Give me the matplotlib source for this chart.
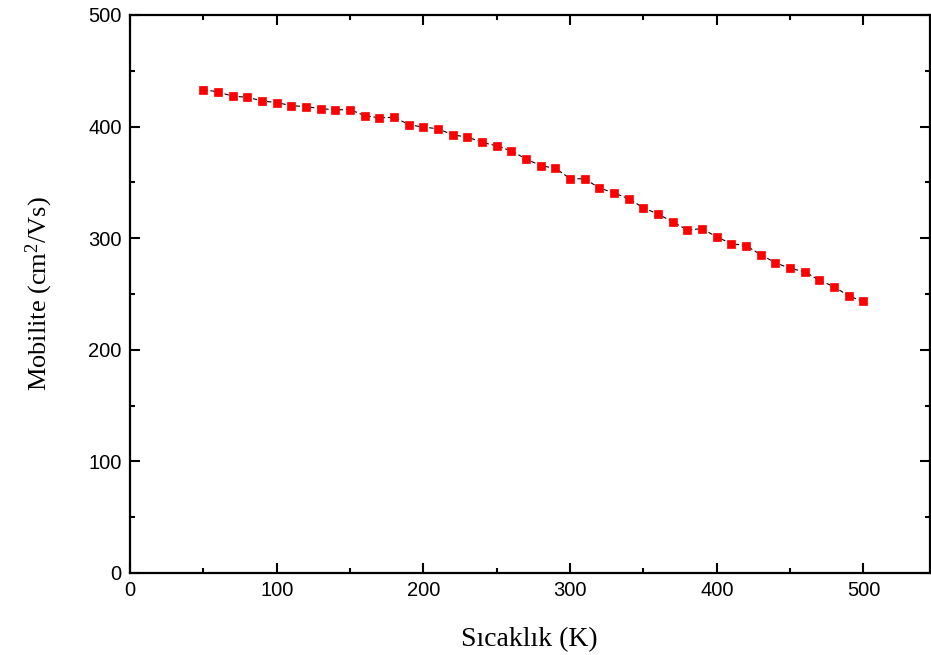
import matplotlib.pyplot as plt
from matplotlib.ticker import MultipleLocator

# sicaklik (K) ve mobilite (cm^2/Vs) degerleri
temperature = [50, 60, 70, 80, 90, 100, 110, 120, 130, 140, 150, 160, 170, 180, 190,
               200, 210, 220, 230, 240, 250, 260, 270, 280, 290, 300, 310, 320, 330, 340,
               350, 360, 370, 380, 390, 400, 410, 420, 430, 440, 450, 460, 470, 480, 490, 500]
mobility = [433.2, 431.1, 427.2, 426.3, 423.0, 421.5, 418.8, 417.9, 416.1, 415.0, 415.2,
            409.9, 407.8, 408.4, 401.8, 399.5, 398.1, 392.5, 390.7, 385.9, 382.7, 378.2,
            371.0, 365.0, 362.6, 353.4, 353.1, 345.0, 340.5, 335.4, 327.1, 321.7, 314.5,
            307.4, 308.5, 301.1, 295.1, 293.3, 285.2, 278.0, 272.9, 270.0, 262.2, 256.5,
            248.2, 243.3]

plt.rcParams['mathtext.fontset'] = 'custom'
plt.rcParams['mathtext.rm'] = 'Liberation Serif'
plt.rcParams['mathtext.it'] = 'Liberation Serif:italic'

fig = plt.figure(figsize=(9.31, 6.55), dpi=100)
ax = fig.add_axes([130 / 931, 82 / 655, 799.5 / 931, 558 / 655])

ax.plot(temperature, mobility, color='black', linestyle=(0, (4, 2.5)), linewidth=0.8,
        marker='s', markersize=5.4, markerfacecolor='red', markeredgecolor='red',
        markeredgewidth=0.5)

ax.set_xlim(0, 545)
ax.set_ylim(0, 500)
ax.xaxis.set_major_locator(MultipleLocator(100))
ax.xaxis.set_minor_locator(MultipleLocator(50))
ax.yaxis.set_major_locator(MultipleLocator(100))
ax.yaxis.set_minor_locator(MultipleLocator(50))

ax.tick_params(which='both', direction='in', top=True, right=True, width=1.5,
               labelsize=14.5, pad=6)
ax.tick_params(which='major', length=7)
ax.tick_params(which='minor', length=3.5)
for lbl in ax.get_xticklabels() + ax.get_yticklabels():
    lbl.set_family('Liberation Sans')
for sp in ax.spines.values():
    sp.set_linewidth(1.6)

ax.set_xlabel('Sıcaklık (K)', family='Liberation Serif', fontsize=20, labelpad=19)
ax.set_ylabel(r'Mobilite (cm$^{\mathrm{2}}$/Vs)', family='Liberation Serif', fontsize=19,
              labelpad=24)

fig.savefig('out.png', dpi=100)
